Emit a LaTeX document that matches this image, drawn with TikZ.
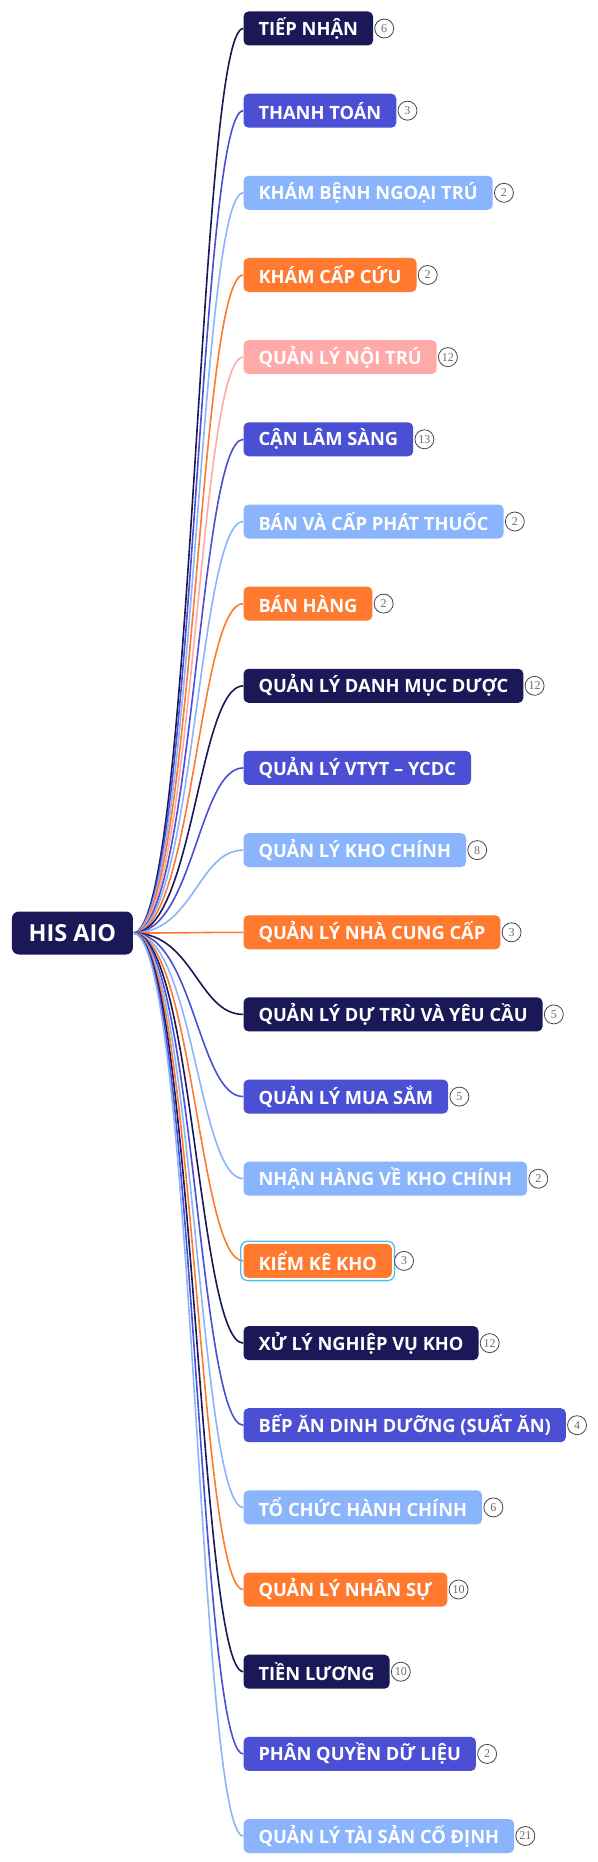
\documentclass[tikz,border=0pt]{standalone}
\usepackage{fontspec}
\setmainfont{Open Sans}
\newfontfamily\numfont{Liberation Serif}
\usetikzlibrary{fit}
\definecolor{cnavy}{RGB}{27,24,88}
\definecolor{cblue}{RGB}{74,79,212}
\definecolor{clight}{RGB}{138,180,252}
\definecolor{corange}{RGB}{255,122,47}
\definecolor{cpink}{RGB}{255,169,169}
\definecolor{selblue}{RGB}{76,190,240}
\definecolor{badgeline}{RGB}{70,70,70}
\definecolor{badgetext}{RGB}{110,110,110}
\pgfdeclarelayer{bg}
\pgfsetlayers{bg,main}
\tikzset{
  topic/.style={rounded corners=5pt, text=white, anchor=west,
    font=\fontsize{18.3}{21}\selectfont\bfseries,
    inner xsep=15pt, inner ysep=0pt, minimum height=34pt},
  rootbox/.style={rounded corners=7pt, fill=cnavy, text=white, anchor=west,
    font=\fontsize{23.5}{27}\selectfont\bfseries,
    minimum width=121pt, minimum height=43pt, inner sep=0pt},
  badge/.style={circle, draw=badgeline, line width=0.8pt, fill=white,
    minimum size=19pt, inner sep=0pt, text=badgetext,
    font=\numfont\fontsize{12}{12}\selectfont},
  link/.style={line width=1.6pt},
}
\begin{document}
\begin{tikzpicture}[x=1pt,y=-1pt]
\useasboundingbox (0,0) rectangle (597,1862);
\begin{pgfonlayer}{bg}
\fill[white] (0,0) rectangle (597,1862);
\end{pgfonlayer}

\node[rootbox] (root) at (11.7,933) {HIS AIO};

\node[topic, fill=cnavy]   (c1)  at (243.3,  28.5) {TIẾP NHẬN};
\node[topic, fill=cblue]   (c2)  at (243.3, 110.7) {THANH TOÁN};
\node[topic, fill=clight]  (c3)  at (243.3, 192.8) {KHÁM BỆNH NGOẠI TRÚ};
\node[topic, fill=corange] (c4)  at (243.3, 275.0) {KHÁM CẤP CỨU};
\node[topic, fill=cpink]   (c5)  at (243.3, 357.1) {QUẢN LÝ NỘI TRÚ};
\node[topic, fill=cblue]   (c6)  at (243.3, 439.3) {CẬN LÂM SÀNG};
\node[topic, fill=clight]  (c7)  at (243.3, 521.5) {BÁN VÀ CẤP PHÁT THUỐC};
\node[topic, fill=corange] (c8)  at (243.3, 603.6) {BÁN HÀNG};
\node[topic, fill=cnavy]   (c9)  at (243.3, 685.8) {QUẢN LÝ DANH MỤC DƯỢC};
\node[topic, fill=cblue]   (c10) at (243.3, 767.9) {QUẢN LÝ VTYT – YCDC};
\node[topic, fill=clight]  (c11) at (243.3, 850.1) {QUẢN LÝ KHO CHÍNH};
\node[topic, fill=corange] (c12) at (243.3, 932.3) {QUẢN LÝ NHÀ CUNG CẤP};
\node[topic, fill=cnavy]   (c13) at (243.3,1014.4) {QUẢN LÝ DỰ TRÙ VÀ YÊU CẦU};
\node[topic, fill=cblue]   (c14) at (243.3,1096.6) {QUẢN LÝ MUA SẮM};
\node[topic, fill=clight]  (c15) at (243.3,1178.7) {NHẬN HÀNG VỀ KHO CHÍNH};
\node[topic, fill=corange] (c16) at (243.3,1260.9) {KIỂM KÊ KHO};
\node[topic, fill=cnavy]   (c17) at (243.3,1343.1) {XỬ LÝ NGHIỆP VỤ KHO};
\node[topic, fill=cblue]   (c18) at (243.3,1425.2) {BẾP ĂN DINH DƯỠNG (SUẤT ĂN)};
\node[topic, fill=clight]  (c19) at (243.3,1507.4) {TỔ CHỨC HÀNH CHÍNH};
\node[topic, fill=corange] (c20) at (243.3,1589.5) {QUẢN LÝ NHÂN SỰ};
\node[topic, fill=cnavy]   (c21) at (243.3,1671.7) {TIỀN LƯƠNG};
\node[topic, fill=cblue]   (c22) at (243.3,1753.9) {PHÂN QUYỀN DỮ LIỆU};
\node[topic, fill=clight]  (c23) at (243.3,1836.0) {QUẢN LÝ TÀI SẢN CỐ ĐỊNH};

\node[fit=(c16), inner sep=2.5pt, draw=selblue, line width=1.3pt, rounded corners=7pt] (sel) {};

\node[badge] (b1)  at ([xshift=11pt]c1.east)  {6};
\node[badge] (b2)  at ([xshift=11pt]c2.east)  {3};
\node[badge] (b3)  at ([xshift=11pt]c3.east)  {2};
\node[badge] (b4)  at ([xshift=11pt]c4.east)  {2};
\node[badge] (b5)  at ([xshift=11pt]c5.east)  {12};
\node[badge] (b6)  at ([xshift=11pt]c6.east)  {13};
\node[badge] (b7)  at ([xshift=11pt]c7.east)  {2};
\node[badge] (b8)  at ([xshift=11pt]c8.east)  {2};
\node[badge] (b9)  at ([xshift=11pt]c9.east)  {12};
\node[badge] (b11) at ([xshift=11pt]c11.east) {8};
\node[badge] (b12) at ([xshift=11pt]c12.east) {3};
\node[badge] (b13) at ([xshift=11pt]c13.east) {5};
\node[badge] (b14) at ([xshift=11pt]c14.east) {5};
\node[badge] (b15) at ([xshift=11pt]c15.east) {2};
\node[badge] (b16) at ([xshift=12pt]c16.east) {3};
\node[badge] (b17) at ([xshift=11pt]c17.east) {12};
\node[badge] (b18) at ([xshift=11pt]c18.east) {4};
\node[badge] (b19) at ([xshift=11pt]c19.east) {6};
\node[badge] (b20) at ([xshift=11pt]c20.east) {10};
\node[badge] (b21) at ([xshift=11pt]c21.east) {10};
\node[badge] (b22) at ([xshift=11pt]c22.east) {2};
\node[badge] (b23) at ([xshift=11pt]c23.east) {21};

\begin{pgfonlayer}{bg}
\foreach \n/\col in {1/cnavy,2/cblue,3/clight,4/corange,5/cpink,6/cblue,
  7/clight,8/corange,9/cnavy,10/cblue,11/clight,12/corange,13/cnavy,
  14/cblue,15/clight,16/corange,17/cnavy,18/cblue,19/clight,20/corange,
  21/cnavy,22/cblue,23/clight}
  \draw[link, draw=\col] (root.east) .. controls +(60,0) and +(-45,0) .. (c\n.west);
\end{pgfonlayer}
\end{tikzpicture}
\end{document}
